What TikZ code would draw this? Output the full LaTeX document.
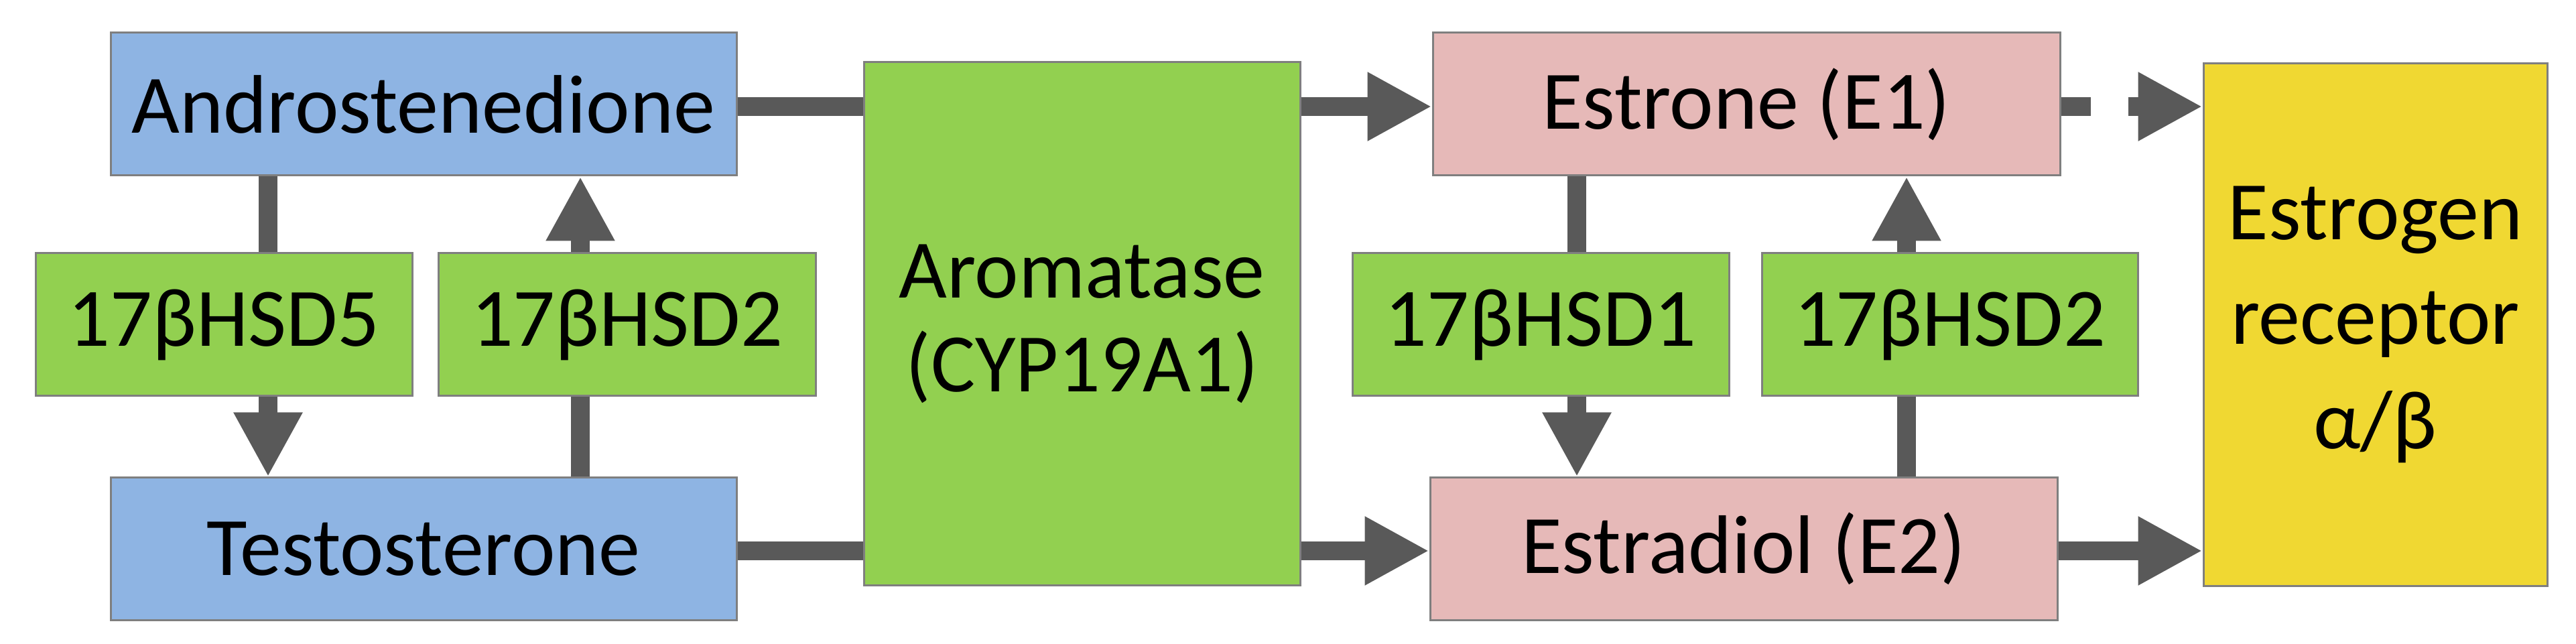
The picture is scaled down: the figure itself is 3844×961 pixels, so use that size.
\documentclass[tikz,border=0pt]{standalone}
\usepackage{fontspec}
\setmainfont{Carlito}
\usetikzlibrary{arrows.meta}
\definecolor{cblue}{HTML}{8EB4E3}
\definecolor{cgreen}{HTML}{92D050}
\definecolor{cpink}{HTML}{E6B9B8}
\definecolor{cyel}{HTML}{F0D832}
\definecolor{cbord}{HTML}{7F7F7F}
\definecolor{carr}{HTML}{595959}
\begin{document}
\begin{tikzpicture}[x=0.5pt,y=-0.5pt,
  box/.style={draw=cbord,line width=1.5pt,inner sep=0pt,font=\fontsize{62}{70}\selectfont,align=center},
  conn/.style={draw=carr,line width=14pt},
  arr/.style={conn,-{Triangle[length=48pt,width=48pt]}}]
\useasboundingbox (0,0) rectangle (3844,961);
\path[box,fill=cblue] (165,49) rectangle (1099,262) node[midway] (andro) {};
\node[box,fill=cblue,minimum width=467pt,minimum height=106.5pt] (andro) at (632,155.5) {Androstenedione};
\node[box,fill=cblue,minimum width=467pt,minimum height=106pt] (testo) at (632,819) {Testosterone};
\node[box,fill=cgreen,minimum width=281pt,minimum height=106.5pt] (hsd5) at (334,484.5) {17βHSD5};
\node[box,fill=cgreen,minimum width=281.5pt,minimum height=106.5pt] (hsd2a) at (935.5,484.5) {17βHSD2};
\node[box,fill=cgreen,minimum width=325.5pt,minimum height=390pt] (arom) at (1614.5,483) {Aromatase\\(CYP19A1)};
\node[box,fill=cpink,minimum width=468pt,minimum height=106.5pt] (estrone) at (2606,155.5) {Estrone (E1)};
\node[box,fill=cpink,minimum width=468pt,minimum height=106pt] (estradiol) at (2602,819) {Estradiol (E2)};
\node[box,fill=cgreen,minimum width=281pt,minimum height=106.5pt] (hsd1) at (2299,484.5) {17βHSD1};
\node[box,fill=cgreen,minimum width=280.5pt,minimum height=106.5pt] (hsd2b) at (2909.5,484.5) {17βHSD2};
\node[box,fill=cyel,minimum width=256.5pt,minimum height=389.5pt,font=\fontsize{62}{78}\selectfont] (er) at (3544.5,484.5) {Estrogen\\receptor\\α/β};
\coordinate (xa) at (400,0);
\coordinate (xb) at (866,0);
\coordinate (xc) at (2353,0);
\coordinate (xd) at (2845,0);
\coordinate (yt) at (0,159);
\coordinate (yb) at (0,822);
% left
\draw[conn] (andro.east |- yt) -- (arom.west |- yt);
\draw[conn] (testo.east |- yb) -- (arom.west |- yb);
\draw[conn] (andro.south -| xa) -- (hsd5.north -| xa);
\draw[arr] (hsd5.south -| xa) -- (testo.north -| xa);
\draw[conn] (testo.north -| xb) -- (hsd2a.south -| xb);
\draw[arr] (hsd2a.north -| xb) -- (andro.south -| xb);
% right
\draw[arr] (arom.east |- yt) -- (estrone.west |- yt);
\draw[arr] (arom.east |- yb) -- (estradiol.west |- yb);
\draw[conn] (estrone.south -| xc) -- (hsd1.north -| xc);
\draw[arr] (hsd1.south -| xc) -- (estradiol.north -| xc);
\draw[conn] (estradiol.north -| xd) -- (hsd2b.south -| xd);
\draw[arr] (hsd2b.north -| xd) -- (estrone.south -| xd);
\draw[arr,dash pattern=on 22pt off 28pt] (estrone.east |- yt) -- (er.west |- yt);
\draw[arr] (estradiol.east |- yb) -- (er.west |- yb);
\end{tikzpicture}
\end{document}
